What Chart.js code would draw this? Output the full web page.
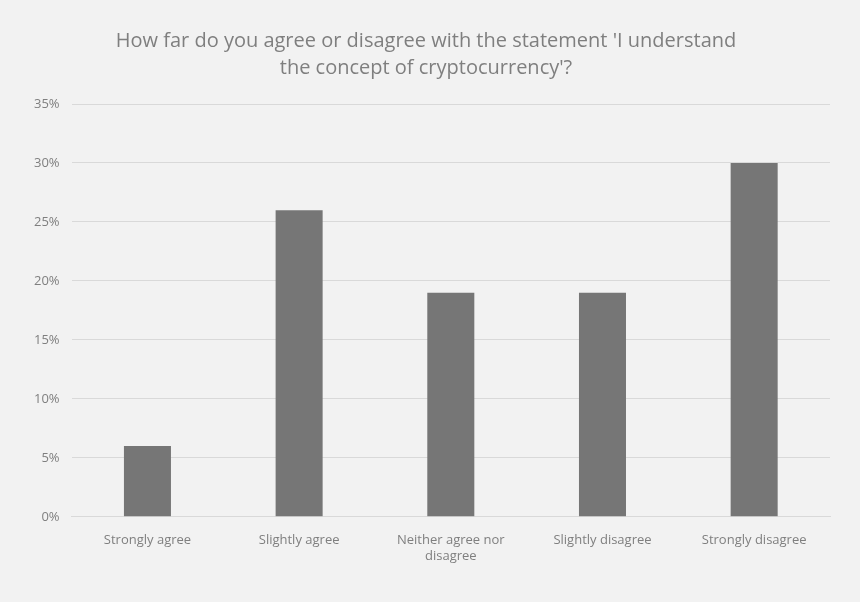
<!DOCTYPE html>
<html>
<head>
<meta charset="utf-8">
<script src="https://cdn.jsdelivr.net/npm/chart.js@4"></script>
<style>
  html, body { margin: 0; padding: 0; background: #f2f2f2; }
  #wrap { width: 860px; height: 602px; }
</style>
</head>
<body>
<div id="wrap"><canvas id="chart" width="860" height="602"></canvas></div>
<script>
const categories = ['Strongly agree', 'Slightly agree', ['Neither agree nor', 'disagree'], 'Slightly disagree', 'Strongly disagree'];
const shares = [6, 26, 19, 19, 30];
const titleLines = ["How far do you agree or disagree with the statement 'I understand", "the concept of cryptocurrency'?"];

const ctx = document.getElementById('chart').getContext('2d');
new Chart(ctx, {
  type: 'bar',
  data: {
    labels: categories,
    datasets: [{ data: shares, backgroundColor: '#767676', categoryPercentage: 1, barPercentage: 0.31 }]
  },
  options: {
    responsive: false,
    animation: false,
    layout: { padding: { left: 22, right: 30, top: 28, bottom: 30 } },
    plugins: {
      legend: { display: false },
      tooltip: { enabled: false },
      title: {
        display: true,
        text: titleLines,
        color: '#7f7f7f',
        font: { family: 'Open Sans', size: 20, weight: 'normal', lineHeight: 1.35 },
        padding: { top: 0, bottom: 22 }
      }
    },
    scales: {
      x: {
        grid: { display: false },
        border: { color: '#d9d9d9' },
        ticks: { color: '#7f7f7f', font: { family: 'Open Sans', size: 13 }, padding: 8, maxRotation: 0 }
      },
      y: {
        min: 0, max: 35,
        ticks: { stepSize: 5, color: '#7f7f7f', font: { family: 'Open Sans', size: 13 }, padding: 12, callback: v => v + '%' },
        grid: { color: '#d9d9d9', drawTicks: false },
        border: { display: false }
      }
    }
  }
});
</script>
</body>
</html>
